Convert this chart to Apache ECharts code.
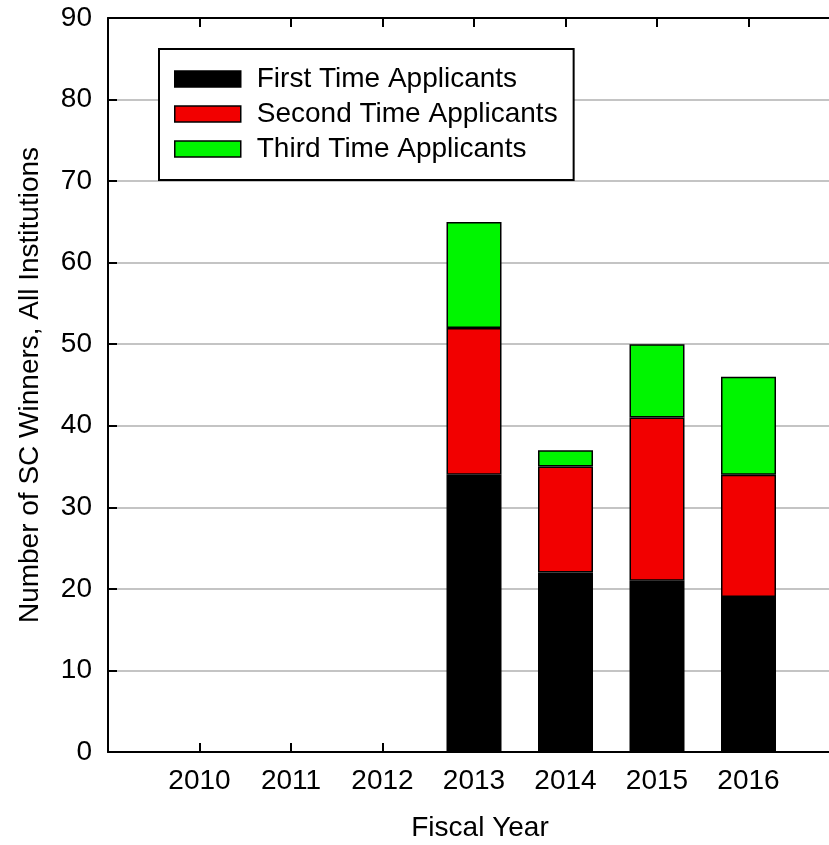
<!DOCTYPE html>
<html>
<head>
<meta charset="utf-8">
<script src="https://cdn.jsdelivr.net/npm/echarts@6/dist/echarts.min.js"></script>
<style>
html,body{margin:0;padding:0;background:#fff;}
#chart{width:829px;height:845px;}
</style>
</head>
<body>
<div id="chart"></div>
<script>
// axis slots: one empty slot before 2010 and two after 2016 (plot continues past the right edge)
const categories = ['', '2010', '2011', '2012', '2013', '2014', '2015', '2016', '', ''];
const firstTime = [null, 0, 0, 0, 34, 22, 21, 19, null, null];
const secondTime = [null, 0, 0, 0, 18, 13, 20, 15, null, null];
const thirdTime = [null, 0, 0, 0, 13, 2, 9, 12, null, null];
const seriesNames = ['First Time Applicants', 'Second Time Applicants', 'Third Time Applicants'];
const yTicks = [0, 10, 20, 30, 40, 50, 60, 70, 80, 90];

const FONT = 'Liberation Sans, Arial, sans-serif';
const colors = ['#000000', '#f20000', '#00f500'];
const seriesData = [firstTime, secondTime, thirdTime];

const chart = echarts.init(document.getElementById('chart'));
chart.setOption({
  backgroundColor: '#ffffff',
  animation: false,
  grid: { left: 108, top: 18, width: 823.5, height: 734, containLabel: false, outerBoundsMode: 'none' },
  legend: {
    orient: 'vertical', left: 159, top: 49,
    data: seriesNames,
    icon: 'rect',
    itemWidth: 66, itemHeight: 16, itemGap: 7,
    padding: [16, 16, 17, 15],
    borderColor: '#000', borderWidth: 2, backgroundColor: '#fff',
    textStyle: { fontFamily: FONT, fontSize: 28, color: '#000', lineHeight: 28, padding: [0, 0, 0, 11] },
    itemStyle: { borderColor: '#000', borderWidth: 1.5 }
  },
  xAxis: [{
    type: 'category', data: categories, boundaryGap: false, position: 'bottom',
    axisLine: { lineStyle: { color: '#000', width: 2 } },
    axisTick: { inside: true, length: 9, lineStyle: { color: '#000', width: 2 } },
    axisLabel: { fontFamily: FONT, fontSize: 28, color: '#000', margin: 15, interval: 0 },
    splitLine: { show: false }
  }, {
    type: 'category', data: categories, boundaryGap: false, position: 'top',
    axisLine: { lineStyle: { color: '#000', width: 2 } },
    axisTick: { inside: true, length: 9, lineStyle: { color: '#000', width: 2 } },
    axisLabel: { show: false },
    splitLine: { show: false }
  }],
  yAxis: {
    type: 'value', min: 0, max: 90, interval: 10,
    name: 'Number of SC Winners, All Institutions',
    nameLocation: 'middle', nameGap: 64, nameRotate: 90,
    nameTextStyle: { fontFamily: FONT, fontSize: 28, color: '#000' },
    axisLine: { show: true, lineStyle: { color: '#000', width: 2 } },
    axisTick: { show: true, inside: true, length: 9, lineStyle: { color: '#000', width: 2 } },
    axisLabel: {
      fontFamily: FONT, fontSize: 28, color: '#000', margin: 16,
      formatter: v => yTicks.indexOf(v) >= 0 ? String(v) : ''
    },
    splitLine: { show: true, lineStyle: { color: '#c4c4c4', width: 2 } }
  },
  graphic: [{
    type: 'text', x: 480, y: 828,
    style: { text: 'Fiscal Year', fontFamily: FONT, fontSize: 28, fill: '#000', align: 'center', verticalAlign: 'middle' }
  }],
  series: seriesNames.map((name, i) => ({
    name, type: 'bar', stack: 'total', barWidth: 55,
    data: seriesData[i],
    itemStyle: { color: colors[i], borderColor: '#000', borderWidth: 1.5 }
  }))
});
</script>
</body>
</html>
